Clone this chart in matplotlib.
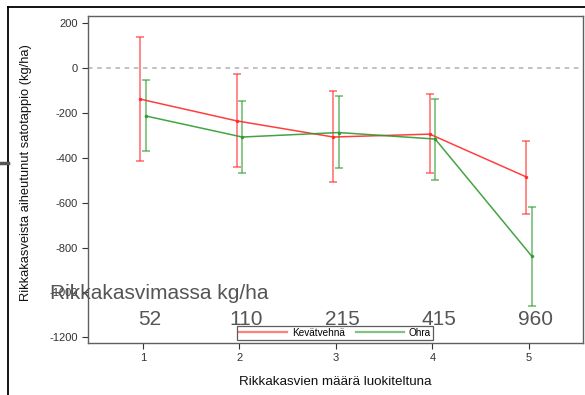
import matplotlib
matplotlib.use("Agg")
import matplotlib.pyplot as plt
from matplotlib.lines import Line2D

plt.rcParams['font.family'] = ['Liberation Sans', 'DejaVu Sans']
plt.rcParams['axes.unicode_minus'] = False

# Weed density class (1..5) and mean weed biomass per class
classes = [1, 2, 3, 4, 5]
biomass_labels = ["52", "110", "215", "415", "960"]

# Yield loss (kg/ha): means and 95 % confidence limits
wheat_mean = [-138, -235, -307, -294, -485]
wheat_low = [-416, -440, -509, -467, -652]
wheat_high = [140, -24, -101, -116, -325]

barley_mean = [-213, -307, -287, -316, -838]
barley_low = [-369, -466, -444, -497, -1060]
barley_high = [-54, -146, -125, -137, -619]

series_names = ["Kevätvehnä", "Ohra"]
y_ticks = [-1200, -1000, -800, -600, -400, -200, 0, 200]

fig = plt.figure(figsize=(5.85, 3.95), dpi=100)
ax = fig.add_axes([88 / 585, 52 / 395, 495 / 585, 327 / 395])

red = "#ff2a2a"
green = "#2e9a2e"
offset = 0.028

def draw(mean, low, high, color, dx, label):
    xs = [c + dx for c in classes]
    yerr = [[m - l for m, l in zip(mean, low)], [h - m for m, h in zip(mean, high)]]
    ax.errorbar(xs, mean, yerr=yerr, fmt="none", ecolor=color, alpha=0.6,
                elinewidth=1.3, capsize=3, capthick=1.3, zorder=2)
    ax.plot(xs, mean, color=color, lw=1.1, marker="o", ms=1.5, label=label,
            alpha=0.9, zorder=3)

draw(wheat_mean, wheat_low, wheat_high, red, -offset, series_names[0])
draw(barley_mean, barley_low, barley_high, green, offset, series_names[1])

ax.axhline(0, color="#b0b0b0", lw=1.1, ls=(0, (3, 3)), zorder=1)

ax.set_xlim(0.43, 5.56)
ax.set_ylim(-1226, 233)
ax.set_xticks(classes)
ax.set_yticks(y_ticks)
ax.tick_params(axis="both", labelsize=8, colors="#333333", length=4,
               width=0.8, direction="out")
for s in ax.spines.values():
    s.set_color("#606060")
    s.set_linewidth(1.0)

ax.set_xlabel("Rikkakasvien määrä luokiteltuna", fontsize=9.6, color="#111111",
              labelpad=9)
ax.set_ylabel("Rikkakasveista aiheutunut satotappio (kg/ha)", fontsize=9.3,
              color="#111111")
ax.yaxis.set_label_coords(-0.114, 0.52)

leg = ax.legend(loc="lower left", bbox_to_anchor=(0.301, 0.010), ncol=2,
                fontsize=7.2, frameon=True, fancybox=False, handlelength=4.8,
                handletextpad=0.5, columnspacing=1.1, borderpad=0.2,
                borderaxespad=0)
leg.get_frame().set_edgecolor("#333333")
leg.get_frame().set_linewidth(0.9)
for h in leg.get_lines():
    h.set_marker("")
    h.set_linewidth(1.6)
    h.set_alpha(0.6)

# Biomass annotation over the lower part of the plot
ax.text(0.036, -1031, "Rikkakasvimassa kg/ha", fontsize=15, color="#555555",
        ha="left", va="baseline", clip_on=False, zorder=5)
for c, lab in zip(classes, biomass_labels):
    ax.text(c + 0.07, -1146, lab, fontsize=15, color="#555555", ha="center",
            va="baseline", clip_on=False, zorder=5)

# Slide frame lines
fig.add_artist(Line2D([8 / 585, 1.0], [1 - 7 / 395, 1 - 7 / 395],
                      color="black", lw=1.3, transform=fig.transFigure))
fig.add_artist(Line2D([8 / 585, 8 / 585], [0, 1 - 7 / 395],
                      color="black", lw=1.3, transform=fig.transFigure))
fig.add_artist(Line2D([0, 8 / 585], [1 - 163 / 395, 1 - 163 / 395],
                      color="#555555", lw=2.5, transform=fig.transFigure))

fig.savefig("out.png", dpi=100)
